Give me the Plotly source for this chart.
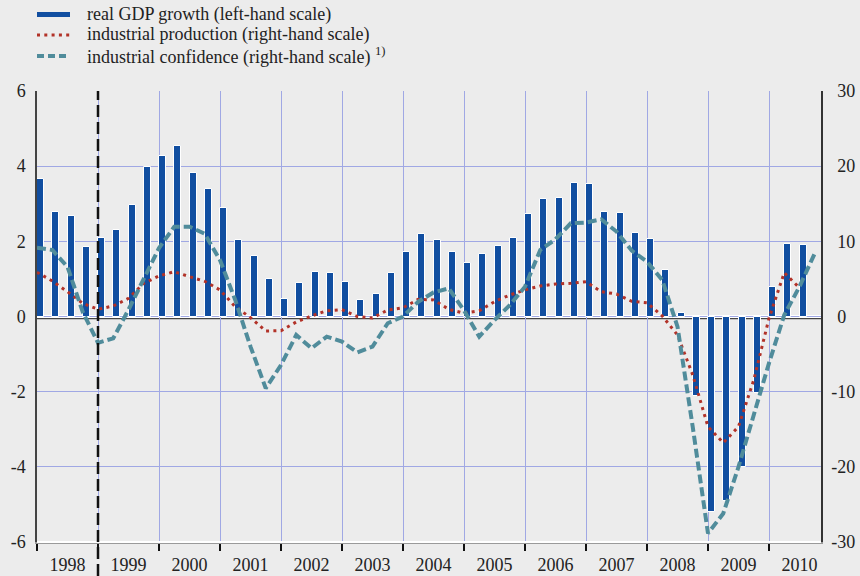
import pandas as pd
import plotly.graph_objects as go

# ---- data (quarterly) ----
gdp_start = "1998Q1"
gdp_growth = [3.65, 2.77, 2.67, 1.85,
              2.10, 2.31, 2.97, 3.97,
              4.28, 4.55, 3.81, 3.38,
              2.88, 2.03, 1.61, 1.00,
              0.47, 0.90, 1.18, 1.17,
              0.93, 0.45, 0.61, 1.17,
              1.71, 2.20, 2.03, 1.71,
              1.43, 1.65, 1.88, 2.10,
              2.72, 3.12, 3.15, 3.55,
              3.52, 2.79, 2.76, 2.21,
              2.07, 1.23, 0.08, -2.11,
              -5.19, -4.91, -4.01, -2.04,
              0.78, 1.94, 1.90]

ip_start = "1998Q1"
industrial_production = [5.88, 4.72, 3.3, 1.75,
                         0.96, 1.4, 2.42, 4.42,
                         5.39, 5.96, 5.3, 4.68,
                         3.53, 1.3, -0.15, -1.93,
                         -1.89, -0.73, 0.07, 0.77,
                         0.9, 0.0, -0.2, 0.86,
                         1.17, 2.28, 2.2, 0.96,
                         0.43, 0.77, 1.97, 2.86,
                         3.53, 4.06, 4.32, 4.42,
                         4.63, 3.3, 2.99, 2.02,
                         1.84, 0.07, -2.46, -7.78,
                         -14.66, -16.8, -14.66, -8.45,
                         -0.24, 5.83, 3.8]

conf_start = "1998Q1"
industrial_confidence = [9.15, 8.85, 6.6, 0.6,
                         -3.5, -2.9, 0.9, 5.1,
                         9.1, 11.95, 11.95, 11.0,
                         7.5, 2.2, -4.0, -9.55,
                         -6.45, -2.46, -4.23, -2.68,
                         -3.35, -4.77, -4.01, -0.9,
                         0.0, 1.97, 3.2, 3.75,
                         0.8, -2.68, -0.47, 1.5,
                         3.97, 8.85, 10.27, 12.4,
                         12.5, 12.93, 11.3, 8.76,
                         7.3, 4.86, -1.35, -14.7,
                         -28.85, -26.2, -20.0, -13.1,
                         -6.2, 0.2, 3.97, 8.4]

year_labels = ["1998", "1999", "2000", "2001", "2002", "2003", "2004",
               "2005", "2006", "2007", "2008", "2009", "2010"]
left_ticks = [-6, -4, -2, 0, 2, 4, 6]
right_ticks = [-30, -20, -10, 0, 10, 20, 30]
euro_start = 1999  # vertical dashed line

legend_labels = ["real GDP growth (left-hand scale)",
                 "industrial production (right-hand scale)",
                 "industrial confidence (right-hand scale) <sup>1)</sup>"]


def qpos(start, n):
    p = pd.period_range(start, periods=n, freq="Q")
    return list(p.year + (p.quarter - 1) / 4.0)


x_gdp = qpos(gdp_start, len(gdp_growth))
x_ip = qpos(ip_start, len(industrial_production))
x_conf = qpos(conf_start, len(industrial_confidence))

# ---- styles ----
BG = "#ececec"
BLUE = "rgb(17,78,160)"
RED = "rgb(178,50,40)"
TEAL = "rgb(80,140,155)"
GRID = "rgb(160,168,228)"
FONT = "Liberation Serif"
TXT = "#222222"
TICKFONT = dict(family=FONT, size=18, color=TXT)

W, H = 860, 576
ML, MR, MT, MB = 37, 39, 91, 34
PW, PH = W - ML - MR, H - MT - MB
YEAR_PX = 61.0


def px_x(px):
    return (px - ML) / PW


def px_y(py):
    return (H - MB - py) / PH


fig = go.Figure()
fig.add_trace(go.Bar(x=x_gdp, y=gdp_growth, width=0.115, offset=0,
                     marker=dict(color=BLUE, line=dict(color="white", width=1)),
                     name=legend_labels[0], showlegend=False, yaxis="y"))
fig.add_trace(go.Scatter(x=x_ip, y=industrial_production, mode="lines",
                         line=dict(color=RED, width=3, dash="3px,4.3px"),
                         name=legend_labels[1], showlegend=False, yaxis="y2"))
fig.add_trace(go.Scatter(x=x_conf, y=industrial_confidence, mode="lines",
                         line=dict(color=TEAL, width=4, dash="9px,4px"),
                         name=legend_labels[2], showlegend=False, yaxis="y2"))

x_end = 1998 + PW / YEAR_PX
years = [int(y) for y in year_labels]

fig.update_layout(
    width=W, height=H,
    margin=dict(l=ML, r=MR, t=MT, b=MB, autoexpand=False),
    paper_bgcolor=BG, plot_bgcolor=BG,
    font=dict(family=FONT, size=18, color=TXT),
    bargap=0,
    xaxis=dict(range=[1998, x_end], tickmode="array",
               tickvals=[y + 0.5 for y in years], ticktext=year_labels,
               tickfont=TICKFONT,
               ticks="", showgrid=False, zeroline=False,
               showline=True, linecolor="#9a9a9a", linewidth=2,
               ticklabelstandoff=5,
               minor=dict(tickmode="array", tickvals=years + [2011],
                          ticks="outside", ticklen=7, tickwidth=1.5,
                          tickcolor="#111", showgrid=True,
                          gridcolor=GRID, gridwidth=1)),
    yaxis=dict(range=[-6, 6], tickmode="array", tickvals=left_ticks,
               ticktext=[str(v) for v in left_ticks], tickfont=TICKFONT,
               showgrid=True, gridcolor=GRID, gridwidth=1, zeroline=False,
               showline=True, linecolor="#444", linewidth=1.5,
               ticks="", ticklabelstandoff=6),
    yaxis2=dict(range=[-30, 30], overlaying="y", side="right",
                tickmode="array", tickvals=right_ticks,
                ticktext=[("\u2004" if v >= 0 else "") + str(v) for v in right_ticks],
                tickfont=TICKFONT,
                showgrid=False, zeroline=False,
                showline=True, linecolor="#333", linewidth=1.5,
                ticks="", ticklabelstandoff=5),
)

# zero line: white gap above a dark line
fig.add_shape(type="line", xref="paper", yref="y", x0=0, x1=1, y0=0, y1=0,
              line=dict(color="white", width=3), layer="between")
fig.add_shape(type="line", xref="paper", yref="y", x0=0, x1=1, y0=-0.055, y1=-0.055,
              line=dict(color="#444", width=1.3), layer="between")
# white frame line at plot bottom
fig.add_shape(type="line", xref="paper", yref="paper", x0=0, x1=1, y0=0, y1=0,
              line=dict(color="white", width=2), layer="above")
# vertical dashed line at start of 1999
fig.add_shape(type="line", xref="x", yref="paper", x0=euro_start, x1=euro_start,
              y0=-MB / PH, y1=1,
              line=dict(color="#111", width=2.5, dash="12px,5px"), layer="above")

# ---- manual legend ----
rows_py = [14.5, 35, 56]
sym_styles = [dict(color=BLUE, width=5),
              dict(color=RED, width=3, dash="3px,4.3px"),
              dict(color=TEAL, width=4, dash="7px,4px")]
for label, py, st in zip(legend_labels, rows_py, sym_styles):
    fig.add_shape(type="line", xref="paper", yref="paper",
                  x0=px_x(37), x1=px_x(70), y0=px_y(py), y1=px_y(py),
                  line=st)
    fig.add_annotation(xref="paper", yref="paper", x=px_x(85), y=px_y(py),
                       xanchor="left", yanchor="middle", text=label,
                       showarrow=False, font=dict(family=FONT, size=18, color=TXT))

fig.write_html("out.html",
               config={"displayModeBar": False},
               post_script="document.body.style.margin='0';"
                           "document.body.style.background='" + BG + "';")
